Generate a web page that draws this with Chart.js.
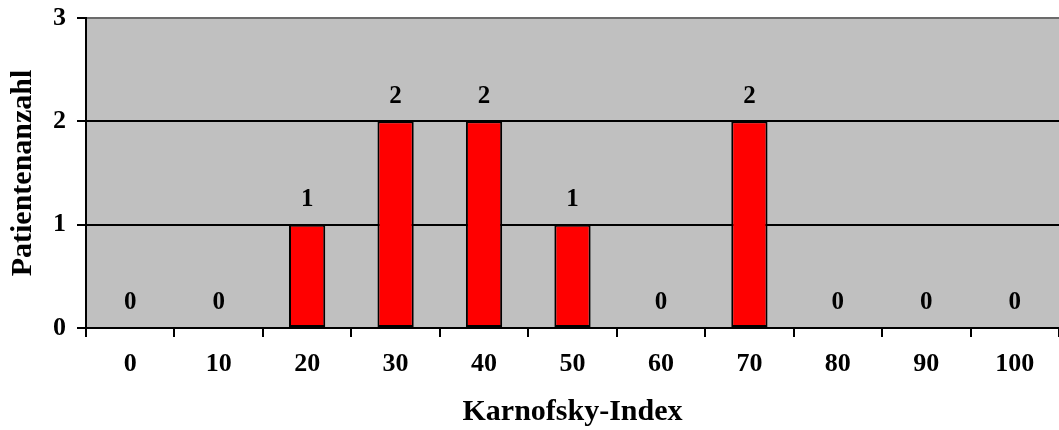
<!DOCTYPE html>
<html>
<head>
<meta charset="utf-8">
<script src="https://cdn.jsdelivr.net/npm/chart.js@4/dist/chart.umd.min.js"></script>
<style>
  html, body { margin: 0; padding: 0; background: #ffffff; }
  #wrap { width: 1059px; height: 430px; }
</style>
</head>
<body>
<div id="wrap"><canvas id="chart" width="1059" height="430"></canvas></div>
<script>
// Karnofsky index categories and patient counts
const categories = ['0', '10', '20', '30', '40', '50', '60', '70', '80', '90', '100'];
const patientCounts = [0, 0, 1, 2, 2, 1, 0, 2, 0, 0, 0];
const yTicks = [0, 1, 2, 3];

const FONT = '"Liberation Serif", "Times New Roman", serif';

// grey plot background
const plotBackground = {
  id: 'plotBackground',
  beforeDraw(chart) {
    const { ctx, chartArea: a } = chart;
    ctx.save();
    ctx.fillStyle = '#c0c0c0';
    ctx.fillRect(a.left, a.top, a.right - a.left, a.bottom - a.top);
    ctx.restore();
  }
};

// value labels above each bar
const valueLabels = {
  id: 'valueLabels',
  afterDatasetsDraw(chart) {
    const { ctx } = chart;
    const meta = chart.getDatasetMeta(0);
    ctx.save();
    ctx.font = 'bold 25px ' + FONT;
    ctx.fillStyle = '#000';
    ctx.textAlign = 'center';
    ctx.textBaseline = 'middle';
    meta.data.forEach((bar, i) => {
      ctx.fillText(String(patientCounts[i]), bar.x, bar.y - 25);
    });
    ctx.restore();
  }
};

new Chart(document.getElementById('chart'), {
  type: 'bar',
  data: {
    labels: categories,
    datasets: [{
      data: patientCounts,
      backgroundColor: '#ff0000',
      borderColor: '#000000',
      borderWidth: 2,
      borderSkipped: false,
      barPercentage: 0.41,
      categoryPercentage: 1
    }]
  },
  options: {
    responsive: false,
    animation: false,
    layout: { padding: { top: 18, right: 0, left: 0, bottom: 0 } },
    plugins: {
      legend: { display: false },
      tooltip: { enabled: false }
    },
    scales: {
      x: {
        grid: {
          offset: true,
          drawOnChartArea: false,
          drawTicks: true,
          tickLength: 9,
          color: '#000',
          lineWidth: 2
        },
        border: { display: true, color: '#000', width: 2 },
        ticks: {
          color: '#000',
          font: { family: FONT, size: 26, weight: 'bold' },
          padding: 12,
          maxRotation: 0,
          autoSkip: false
        },
        title: {
          display: true,
          text: 'Karnofsky-Index',
          color: '#000',
          font: { family: FONT, size: 30, weight: 'bold', lineHeight: 1 },
          padding: { top: 0, bottom: 3 }
        },
        afterFit(scale) {
          scale.height = 102;
          scale.paddingLeft = 0;
          scale.paddingRight = 0;
        }
      },
      y: {
        min: 0,
        max: 3,
        afterBuildTicks(scale) { scale.ticks = yTicks.map(v => ({ value: v })); },
        grid: {
          drawTicks: true,
          tickLength: 9,
          lineWidth: 2,
          color: ctx => (ctx.tick && ctx.tick.value === 3) ? '#6b6b6b' : '#000',
          tickColor: '#000'
        },
        border: { display: true, color: '#000', width: 2 },
        ticks: {
          color: '#000',
          font: { family: FONT, size: 26, weight: 'bold' },
          padding: 11
        },
        title: {
          display: true,
          text: 'Patientenanzahl',
          color: '#000',
          font: { family: FONT, size: 30, weight: 'bold', lineHeight: 1 },
          padding: { top: 8, bottom: 0 }
        },
        afterFit(scale) {
          scale.width = 86;
          scale.paddingTop = 0;
          scale.paddingBottom = 0;
        }
      }
    }
  },
  plugins: [plotBackground, valueLabels]
});
</script>
</body>
</html>
